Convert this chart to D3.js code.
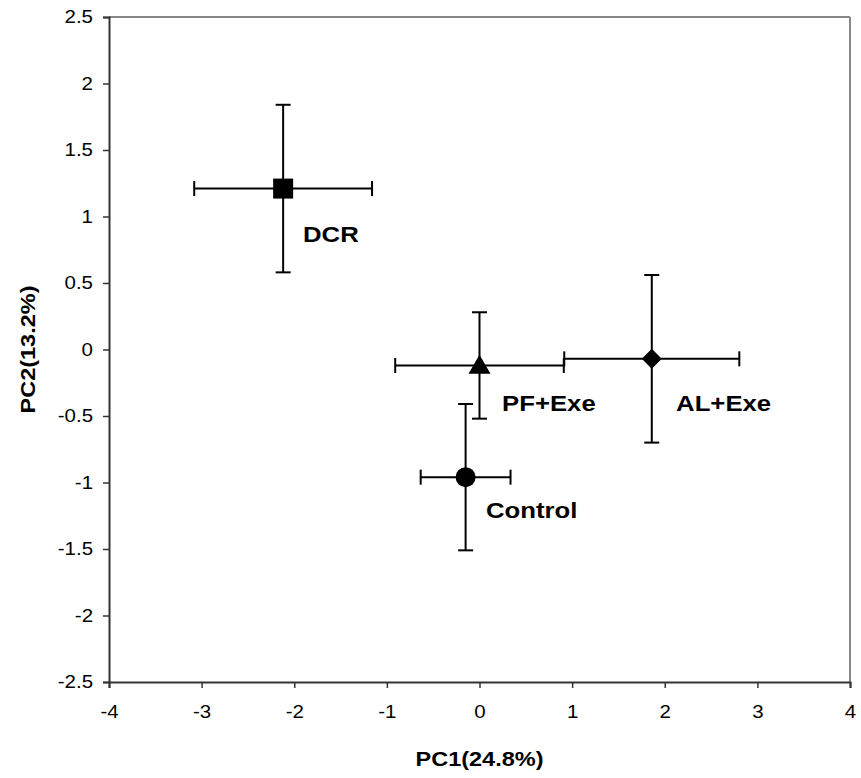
<!DOCTYPE html>
<html>
<head>
<meta charset="utf-8">
<script src="https://cdn.jsdelivr.net/npm/d3@7"></script>
<style>
  body { margin: 0; background: #fff; }
  svg text { font-family: "Liberation Sans", Arial, sans-serif; fill: #000; }
</style>
</head>
<body>
<div id="chart"></div>
<script>
// groups and their PCA scores (mean +- error)
const groups = ['DCR', 'PF+Exe', 'AL+Exe', 'Control']
const pc1 = [-2.12, 0.0, 1.86, -0.15]
const pc1Err = [0.96, 0.91, 0.945, 0.485]
const pc2 = [1.21, -0.12, -0.07, -0.96]
const pc2Err = [0.63, 0.40, 0.63, 0.55]
const symbols = ['square', 'triangle', 'diamond', 'circle']
// where the group names sit, in data units (left edge, baseline)
const labelX = [-1.906, 0.243, 2.122, 0.07]
const labelY = [0.808, -0.462, -0.462, -1.267]

const xTicks = [-4, -3, -2, -1, 0, 1, 2, 3, 4]
const yTicks = [2.5, 2, 1.5, 1, 0.5, 0, -0.5, -1, -1.5, -2, -2.5]

const width = 861
const height = 778
const margin = { top: 17, right: 11, bottom: 96, left: 109 }
const w = width - margin.left - margin.right
const h = height - margin.top - margin.bottom

// text in the original is a bit wider than Arial
const stretch = 1.17

const svg = d3.select('#chart').append('svg')
  .attr('width', width)
  .attr('height', height)

const g = svg.append('g')
  .attr('transform', 'translate(' + margin.left + ',' + margin.top + ')')

const x = d3.scaleLinear().domain([-4, 4]).range([0, w])
const y = d3.scaleLinear().domain([-2.5, 2.5]).range([h, 0])

// plot frame: top and right in grey
g.append('line')
  .attr('x1', 0).attr('x2', w).attr('y1', 0).attr('y2', 0)
  .attr('stroke', '#888').attr('stroke-width', 2)
g.append('line')
  .attr('x1', w).attr('x2', w).attr('y1', 0).attr('y2', h)
  .attr('stroke', '#888').attr('stroke-width', 2)

// axes (plain hyphen for negatives, like the original)
const fmt = d => String(d)

const xAxis = g.append('g')
  .attr('transform', 'translate(0,' + h + ')')
  .call(d3.axisBottom(x).tickValues(xTicks).tickSize(6).tickPadding(18).tickFormat(fmt))

const yAxis = g.append('g')
  .call(d3.axisLeft(y).tickValues(yTicks).tickSize(6).tickPadding(10).tickFormat(fmt))

;[xAxis, yAxis].forEach(ax => {
  ax.select('.domain').attr('stroke', '#333').attr('stroke-width', 2)
  ax.selectAll('.tick line').attr('stroke', '#333').attr('stroke-width', 1.5)
  ax.selectAll('.tick text')
    .attr('font-size', '17.5px')
    .attr('fill', '#000')
    .attr('font-family', '"Liberation Sans", Arial, sans-serif')
})
xAxis.selectAll('.tick text').attr('transform', 'scale(' + stretch + ',1)')
yAxis.selectAll('.tick text')
  .attr('x', -16 / stretch)
  .attr('transform', 'scale(' + stretch + ',1)')

// error bars
const capHalf = 7.5
const data = groups.map((name, i) => ({
  name, x: pc1[i], y: pc2[i], ex: pc1Err[i], ey: pc2Err[i],
  symbol: symbols[i], lx: labelX[i], ly: labelY[i]
}))

const bars = g.selectAll('.err')
  .data(data)
  .enter().append('g')
  .attr('class', 'err')
  .attr('stroke', '#000')
  .attr('stroke-width', 2)

bars.append('line')
  .attr('x1', d => x(d.x - d.ex)).attr('x2', d => x(d.x + d.ex))
  .attr('y1', d => y(d.y)).attr('y2', d => y(d.y))
bars.append('line')
  .attr('x1', d => x(d.x)).attr('x2', d => x(d.x))
  .attr('y1', d => y(d.y - d.ey)).attr('y2', d => y(d.y + d.ey))
// caps
bars.append('line')
  .attr('x1', d => x(d.x - d.ex)).attr('x2', d => x(d.x - d.ex))
  .attr('y1', d => y(d.y) - capHalf).attr('y2', d => y(d.y) + capHalf)
bars.append('line')
  .attr('x1', d => x(d.x + d.ex)).attr('x2', d => x(d.x + d.ex))
  .attr('y1', d => y(d.y) - capHalf).attr('y2', d => y(d.y) + capHalf)
bars.append('line')
  .attr('x1', d => x(d.x) - capHalf).attr('x2', d => x(d.x) + capHalf)
  .attr('y1', d => y(d.y + d.ey)).attr('y2', d => y(d.y + d.ey))
bars.append('line')
  .attr('x1', d => x(d.x) - capHalf).attr('x2', d => x(d.x) + capHalf)
  .attr('y1', d => y(d.y - d.ey)).attr('y2', d => y(d.y - d.ey))

// markers (diamond = square turned 45 degrees)
const symbolType = {
  square: d3.symbolSquare,
  triangle: d3.symbolTriangle,
  diamond: d3.symbolSquare,
  circle: d3.symbolCircle
}
const symbolSize = { square: 400, triangle: 210, diamond: 200, circle: 314 }

g.selectAll('.marker')
  .data(data)
  .enter().append('path')
  .attr('class', 'marker')
  .attr('d', d => d3.symbol().type(symbolType[d.symbol]).size(symbolSize[d.symbol])())
  .attr('transform', d => {
    let t = 'translate(' + x(d.x) + ',' + (y(d.y) + (d.symbol === 'triangle' ? 2 : 0)) + ')'
    if (d.symbol === 'diamond') t += ' rotate(45)'
    return t
  })
  .attr('fill', '#000')

// group names
g.selectAll('.glabel')
  .data(data)
  .enter().append('text')
  .attr('class', 'glabel')
  .attr('transform', d => 'translate(' + x(d.lx) + ',' + y(d.ly) + ') scale(' + stretch + ',1)')
  .attr('font-size', '22px')
  .attr('font-weight', 'bold')
  .text(d => d.name)

// axis titles
g.append('text')
  .attr('transform', 'translate(' + (w / 2) + ',' + (h + 84) + ') scale(1.12,1)')
  .attr('text-anchor', 'middle')
  .attr('font-size', '21px')
  .attr('font-weight', 'bold')
  .text('PC1(24.8%)')

g.append('text')
  .attr('transform', 'translate(' + (-74) + ',' + (h / 2) + ') rotate(-90) scale(1.12,1)')
  .attr('text-anchor', 'middle')
  .attr('font-size', '21px')
  .attr('font-weight', 'bold')
  .text('PC2(13.2%)')
</script>
</body>
</html>
